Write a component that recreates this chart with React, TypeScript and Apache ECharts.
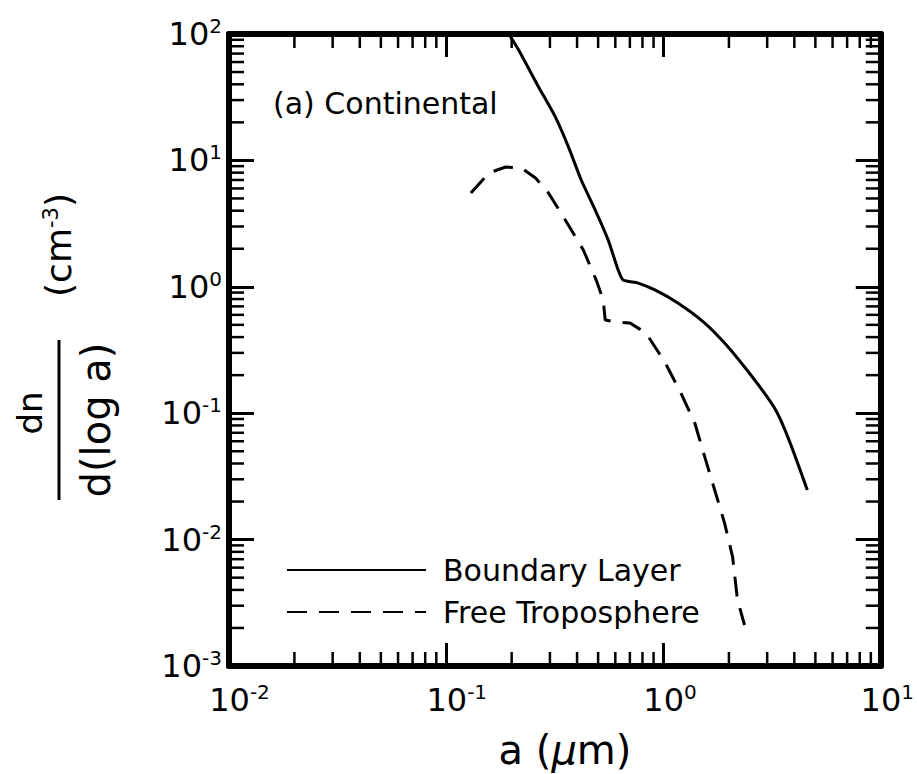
import React, { useEffect, useRef } from 'react';
import * as echarts from 'echarts';

const FONT = '"DejaVu Sans", "Liberation Sans", sans-serif';

// Boundary Layer (solid)
const boundaryA = [0.194, 0.2154, 0.266, 0.318, 0.365, 0.418, 0.485, 0.556, 0.618, 0.652, 0.764, 0.913, 1.164, 1.548, 1.91, 2.36, 2.91, 3.34, 3.83, 4.59];
const boundaryN = [100, 74.7, 38.1, 22.0, 12.8, 7.0, 4.05, 2.35, 1.36, 1.13, 1.07, 0.944, 0.744, 0.517, 0.359, 0.232, 0.1445, 0.1004, 0.058, 0.0247];

// Free Troposphere (dashed)
const freeA = [0.1298, 0.157, 0.1877, 0.222, 0.2576, 0.2955, 0.353, 0.4275, 0.49, 0.5277, 0.539, 0.605, 0.701, 0.83, 1.014, 1.202, 1.393, 1.548, 1.72, 1.91, 2.08, 2.19, 2.36];
const freeN = [5.52, 7.95, 8.87, 8.71, 7.26, 5.52, 3.38, 1.955, 1.13, 0.787, 0.546, 0.527, 0.518, 0.431, 0.254, 0.1445, 0.0837, 0.0451, 0.0247, 0.0135, 0.00728, 0.00333, 0.00211];

const seriesNames = ['Boundary Layer', 'Free Troposphere'];

// Axis ranges and minor tick structure
const xMin = 0.01;
const xMax = 10;
const yMin = 0.001;
const yMax = 100;
const xDecades = [0.01, 0.1, 1];
const yDecades = [0.001, 0.01, 0.1, 1, 10];
const minorMultipliers = [2, 3, 4, 5, 6, 7, 8, 9];

const xMinorTicks: number[] = [];
xDecades.forEach((d) => minorMultipliers.forEach((m) => xMinorTicks.push(+(d * m).toPrecision(6))));
const yMinorTicks: number[] = [];
yDecades.forEach((d) => minorMultipliers.forEach((m) => yMinorTicks.push(+(d * m).toPrecision(6))));

const expOf = (v: number) => Math.round(Math.log10(v));

export default function App() {
  const ref = useRef<HTMLDivElement>(null);
  useEffect(() => {
    if (!ref.current) return;
    const chart = echarts.init(ref.current, undefined, { renderer: 'svg' });
    const axisLine = { show: true, onZero: false, lineStyle: { color: '#000', width: 6 } };
    const labelRichX = {
      bn: { fontFamily: FONT, fontSize: 32, lineHeight: 36, color: '#000', padding: [0, 0, 0, 21] },
      bp: { fontFamily: FONT, fontSize: 32, lineHeight: 36, color: '#000', padding: [0, 0, 0, 13] },
      s: { fontFamily: FONT, fontSize: 20, lineHeight: 14, color: '#000', verticalAlign: 'top' },
    };
    const labelRichY = {
      b: { fontFamily: FONT, fontSize: 32, lineHeight: 36, color: '#000' },
      s: { fontFamily: FONT, fontSize: 20, lineHeight: 14, color: '#000', verticalAlign: 'top' },
    };
    const minorStyle = { stroke: '#000', lineWidth: 2.5 };
    const option: any = {
      animation: false,
      backgroundColor: '#fff',
      grid: { left: 229, right: 33, top: 34, bottom: 108, containLabel: false },
      xAxis: [
        {
          type: 'log', logBase: 10, min: xMin, max: xMax, position: 'bottom',
          axisLine,
          axisTick: { show: true, inside: true, length: 23, lineStyle: { color: '#000', width: 3 } },
          axisLabel: {
            show: true, margin: 16,
            formatter: (v: number) => {
              const e = expOf(v);
              return `{${e < 0 ? 'bn' : 'bp'}|10}{s|${e}}`;
            },
            rich: labelRichX,
          },
          splitLine: { show: false },
        },
        {
          type: 'log', logBase: 10, min: xMin, max: xMax, position: 'top',
          axisLine,
          axisTick: { show: true, inside: true, length: 23, lineStyle: { color: '#000', width: 3 } },
          axisLabel: { show: false },
          splitLine: { show: false },
        },
      ],
      yAxis: [
        {
          type: 'log', logBase: 10, min: yMin, max: yMax, position: 'left',
          axisLine,
          axisTick: { show: true, inside: true, length: 25, lineStyle: { color: '#000', width: 3 } },
          axisLabel: {
            show: true, margin: 7,
            formatter: (v: number) => `{b|10}{s|${expOf(v)}}`,
            rich: labelRichY,
          },
          splitLine: { show: false },
        },
        {
          type: 'log', logBase: 10, min: yMin, max: yMax, position: 'right',
          axisLine,
          axisTick: { show: true, inside: true, length: 25, lineStyle: { color: '#000', width: 3 } },
          axisLabel: { show: false },
          splitLine: { show: false },
        },
      ],
      legend: {
        left: 281, top: 550, orient: 'vertical',
        itemWidth: 139, itemHeight: 14, itemGap: 12,
        itemStyle: { opacity: 0, borderWidth: 0 },
        textStyle: { fontFamily: FONT, fontSize: 30, color: '#000', padding: [0, 0, 0, 12] },
        data: seriesNames,
        selectedMode: false,
      },
      series: [
        {
          name: seriesNames[0], type: 'line', xAxisIndex: 0, yAxisIndex: 0,
          data: boundaryA.map((a, i) => [a, boundaryN[i]]),
          symbol: 'none', showSymbol: false, clip: true,
          smooth: 0.2,
          lineStyle: { color: '#000', width: 3, type: 'solid' },
          itemStyle: { color: '#000' },
        },
        {
          name: seriesNames[1], type: 'line', xAxisIndex: 0, yAxisIndex: 0,
          data: freeA.map((a, i) => [a, freeN[i]]),
          symbol: 'none', showSymbol: false, clip: true,
          smooth: false,
          lineStyle: { color: '#000', width: 3, type: [20, 12] },
          itemStyle: { color: '#000' },
        },
        {
          type: 'custom', xAxisIndex: 0, yAxisIndex: 0, silent: true,
          data: xMinorTicks.map((v) => [v, 1]),
          renderItem: (params: any, api: any) => {
            const cs = params.coordSys;
            const p = api.coord([api.value(0), api.value(1)]);
            const x = p[0];
            const b = cs.y + cs.height;
            return {
              type: 'group',
              children: [
                { type: 'line', shape: { x1: x, y1: b, x2: x, y2: b - 14 }, style: minorStyle },
                { type: 'line', shape: { x1: x, y1: cs.y, x2: x, y2: cs.y + 14 }, style: minorStyle },
              ],
            };
          },
        },
        {
          type: 'custom', xAxisIndex: 0, yAxisIndex: 0, silent: true,
          data: yMinorTicks.map((v) => [1, v]),
          renderItem: (params: any, api: any) => {
            const cs = params.coordSys;
            const p = api.coord([api.value(0), api.value(1)]);
            const y = p[1];
            const r = cs.x + cs.width;
            return {
              type: 'group',
              children: [
                { type: 'line', shape: { x1: cs.x, y1: y, x2: cs.x + 15, y2: y }, style: minorStyle },
                { type: 'line', shape: { x1: r, y1: y, x2: r - 15, y2: y }, style: minorStyle },
              ],
            };
          },
        },
      ],
      graphic: [
        {
          type: 'text', x: 273, y: 103,
          style: { text: '(a) Continental', fontFamily: FONT, fontSize: 30, fill: '#000', textAlign: 'left', textVerticalAlign: 'middle', align: 'left', verticalAlign: 'middle' },
        },
        {
          type: 'text', x: 565, y: 750,
          style: {
            text: 'a ({i|μ}m)', fontFamily: FONT, fontSize: 40, fill: '#000',
            textAlign: 'center', textVerticalAlign: 'middle', align: 'center', verticalAlign: 'middle',
            rich: { i: { fontFamily: FONT, fontSize: 40, fontStyle: 'italic', fill: '#000' } },
          },
        },
        {
          type: 'text', x: 30, y: 413, rotation: Math.PI / 2,
          style: { text: 'dn', fontFamily: FONT, fontSize: 34, fill: '#000', textAlign: 'center', textVerticalAlign: 'middle', align: 'center', verticalAlign: 'middle' },
        },
        {
          type: 'line', shape: { x1: 59, y1: 340, x2: 59, y2: 500 }, style: { stroke: '#000', lineWidth: 3 },
        },
        {
          type: 'text', x: 96, y: 420, rotation: Math.PI / 2,
          style: { text: 'd(log a)', fontFamily: FONT, fontSize: 40, fill: '#000', textAlign: 'center', textVerticalAlign: 'middle', align: 'center', verticalAlign: 'middle' },
        },
        {
          type: 'text', x: 58, y: 245, rotation: Math.PI / 2,
          style: {
            text: '(cm{s|-3})', fontFamily: FONT, fontSize: 36, fill: '#000',
            textAlign: 'center', textVerticalAlign: 'middle', align: 'center', verticalAlign: 'middle',
            rich: { s: { fontFamily: FONT, fontSize: 21, lineHeight: 14, verticalAlign: 'top', fill: '#000' } },
          },
        },
      ],
    };
    chart.setOption(option);
    return () => chart.dispose();
  }, []);
  return <div ref={ref} style={{ position: 'fixed', left: 0, top: 0, width: 917, height: 774, background: '#fff' }} />;
}
